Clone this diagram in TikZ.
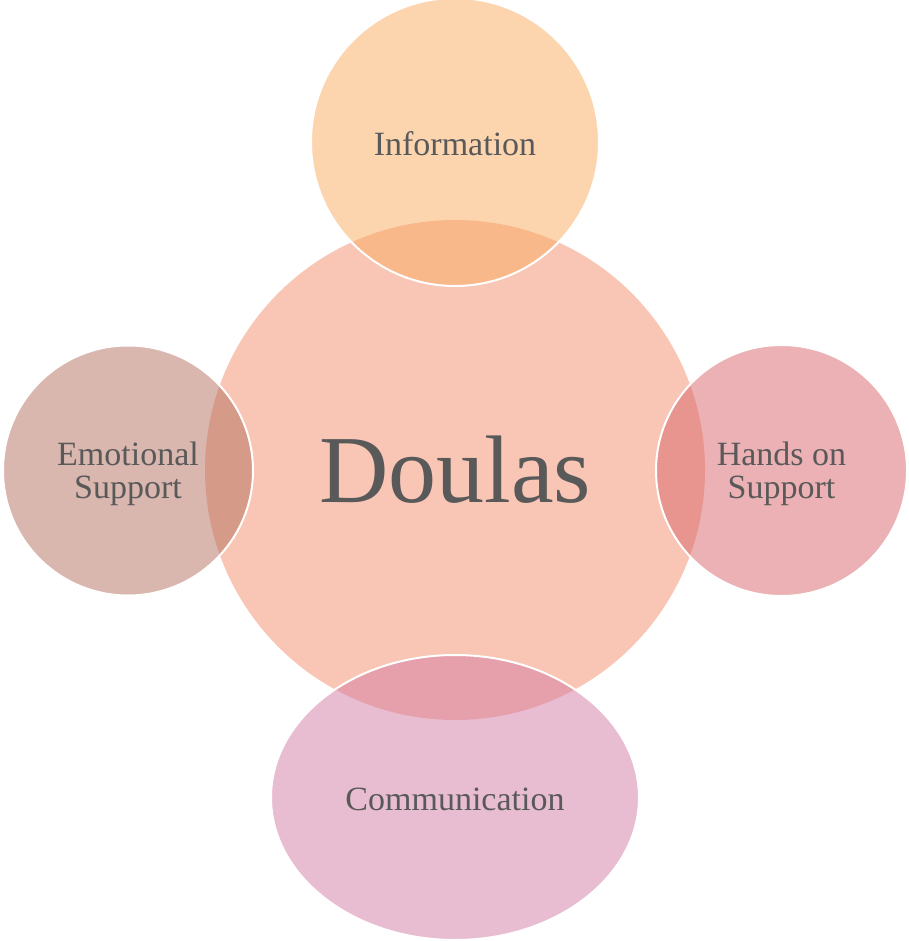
\documentclass[tikz,border=0pt]{standalone}
\usepackage{fontspec}
\setmainfont{Liberation Serif}
\usetikzlibrary{shapes.geometric}
\definecolor{txt}{HTML}{595959}
\definecolor{cCenter}{RGB}{244,142,108}
\definecolor{cTop}{RGB}{250,172,96}
\definecolor{cLeft}{RGB}{180,111,94}
\definecolor{cRight}{RGB}{216,100,106}
\definecolor{cBottom}{RGB}{212,124,164}
\tikzset{
  bubble/.style={circle, inner sep=0pt, outer sep=0pt, draw=white, line width=2pt,
    fill opacity=0.5, text opacity=1, draw opacity=1, text=txt, align=center,
    font=\fontsize{34}{33}\selectfont},
  oval/.style={bubble, ellipse}
}
\begin{document}
\begin{tikzpicture}[x=1pt,y=-1pt]
\useasboundingbox (0,0) rectangle (908,941);
\fill[white] (0,0) rectangle (908,941);
\node[bubble, fill=cCenter, draw=none, minimum size=500pt, font=\fontsize{96}{96}\selectfont] (doulas) at (455,470) {Doulas};
\node[bubble, fill=cTop, minimum size=288pt] (info) at (455,142) {};
\node[text=txt, font=\fontsize{34}{33}\selectfont] (infot) at (455,143.5) {Information};
\node[bubble, fill=cLeft, minimum size=250pt] (emo) at (128,470.5) {};
\node[text=txt, align=center, font=\fontsize{34}{33}\selectfont] (emot) at (128,474) {Emotional\\Support};
\node[bubble, fill=cRight, minimum size=251pt] (hands) at (781.5,470.5) {};
\node[text=txt, align=center, font=\fontsize{34}{33}\selectfont] (handst) at (781.5,474) {Hands on\\Support};
\node[oval, fill=cBottom, minimum width=368pt, minimum height=285pt] (comm) at (455,797.5) {};
\node[text=txt, font=\fontsize{34}{33}\selectfont] (commt) at (455,799.5) {Communication};
\end{tikzpicture}
\end{document}
